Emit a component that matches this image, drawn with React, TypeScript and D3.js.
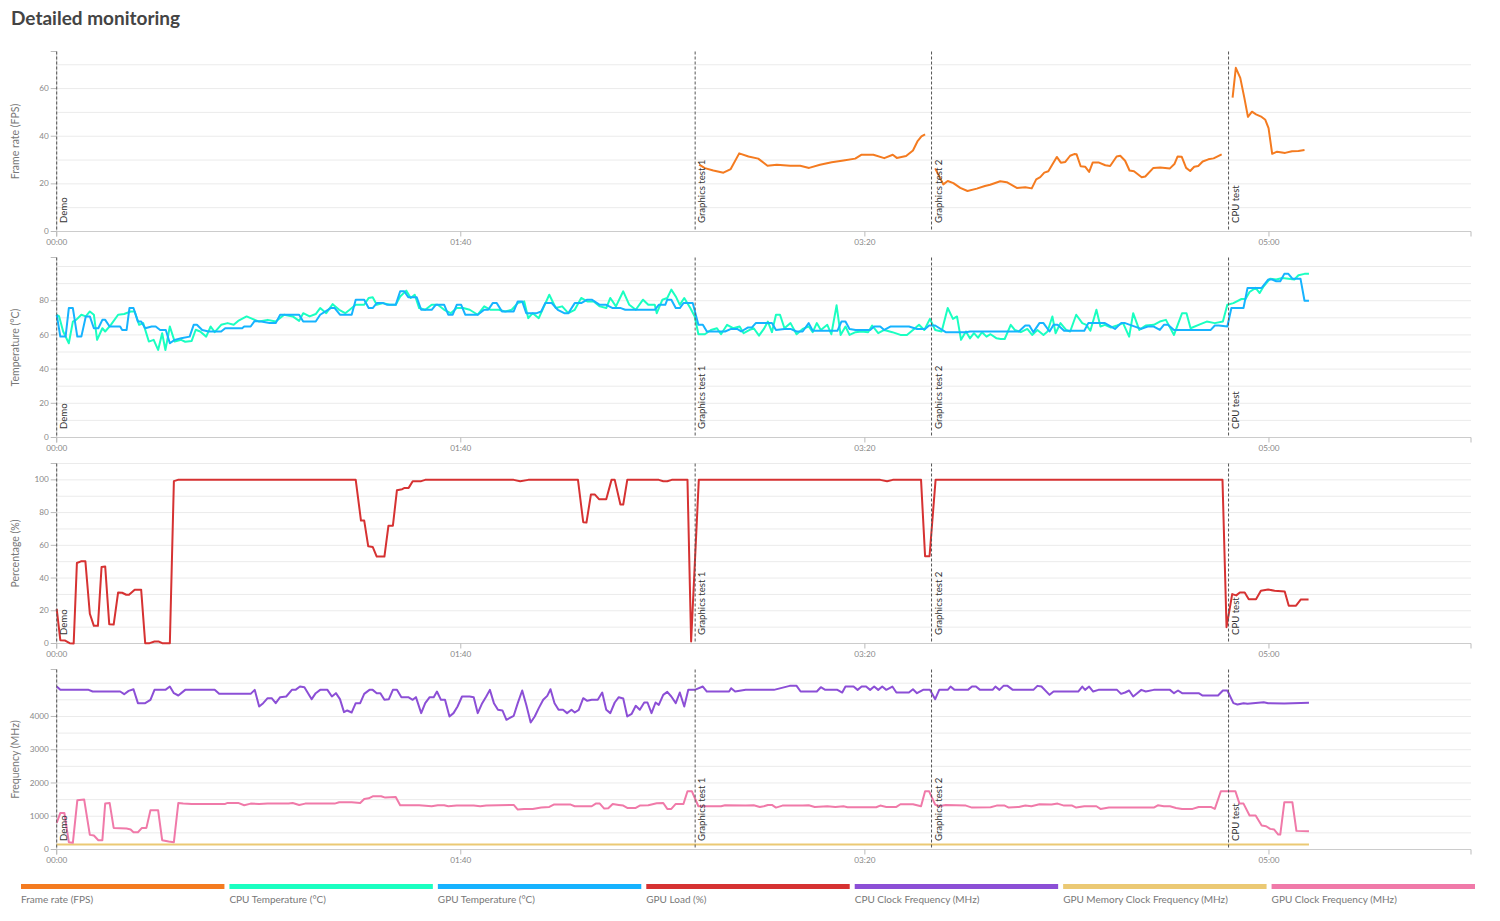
import React from "react";
import * as d3 from "d3";

type Pt = [number, number];

const W = 1500;
const H = 921;
const LEFT = 56.7;
const RIGHT = 1471;
const TOP0 = 51.5;
const STEP = 206;
const PH = 180;
const FONT = "Lato, 'Open Sans', sans-serif";

const xDomain = [0, 350];
const xTickValues = [0, 100, 200, 300];

const markerNames = ["Demo", "Graphics test 1", "Graphics test 2", "CPU test"];
const markerTimes = [0, 158.0, 216.5, 290.0];

const seriesNames = [
  "Frame rate (FPS)",
  "CPU Temperature (°C)",
  "GPU Temperature (°C)",
  "GPU Load (%)",
  "CPU Clock Frequency (MHz)",
  "GPU Memory Clock Frequency (MHz)",
  "GPU Clock Frequency (MHz)",
];
const seriesColors = ["#f47b20", "#1affc1", "#16b3ff", "#d63232", "#8c4fd6", "#ebc974", "#f07aa9"];

const fpsLabelTicks = [0, 20, 40, 60];
const tempLabelTicks = [0, 20, 40, 60, 80];
const loadLabelTicks = [0, 20, 40, 60, 80, 100];
const freqLabelTicks = [0, 1000, 2000, 3000, 4000];

const fpsGraphics1: Pt[] = [
  [159.0, 28.1], [160.4, 26.6], [162.5, 25.6], [165.0, 24.7], [166.8, 26.2], [168.9, 32.8], [171.2, 31.5],
  [173.6, 30.6], [175.9, 27.6], [178.2, 28.0], [181.5, 27.6], [184.0, 27.6], [186.2, 26.7], [188.9, 28.0],
  [191.8, 29.1], [194.7, 29.8], [197.6, 30.6], [199.1, 32.2], [202.1, 32.2], [204.8, 30.8], [206.9, 32.2],
  [207.9, 30.9], [210.2, 31.7], [211.9, 34.0], [213.0, 37.8], [214.0, 39.9], [214.9, 40.8],
];
const fpsGraphics2: Pt[] = [
  [217.4, 26.5], [219.4, 19.8], [220.5, 21.2], [221.9, 20.3], [223.6, 18.3], [225.4, 17.0], [227.7, 18.0],
  [229.7, 19.1], [231.0, 19.6], [233.5, 21.1], [235.1, 20.7], [237.6, 18.3], [239.7, 18.6], [241.3, 18.1],
  [242.4, 21.9], [243.4, 22.8], [244.4, 24.7], [245.4, 25.3], [247.5, 31.3], [248.5, 28.9], [249.6, 29.2],
  [250.8, 31.8], [251.8, 32.5], [252.4, 32.4], [253.4, 27.4], [254.5, 27.2], [255.5, 25.0], [256.4, 29.0],
  [257.8, 29.0], [259.5, 27.8], [260.7, 27.5], [262.3, 31.5], [263.2, 31.8], [264.4, 29.7], [265.5, 25.6],
  [266.6, 25.3], [268.5, 22.8], [269.4, 23.1], [271.4, 26.7], [273.1, 26.9], [275.5, 26.5], [276.6, 28.3],
  [277.4, 31.5], [278.4, 31.4], [279.5, 26.7], [280.5, 25.4], [281.5, 27.2], [282.5, 27.5], [283.6, 29.4],
  [285.0, 30.3], [286.3, 30.7], [288.3, 32.4],
];
const fpsCpu: Pt[] = [
  [291.0, 56.2], [291.8, 68.7], [292.9, 64.5], [293.9, 56.2], [294.8, 48.1], [295.8, 50.3], [296.8, 49.2],
  [298.2, 48.1], [299.1, 46.9], [299.9, 43.4], [300.8, 32.6], [302.0, 33.5], [304.0, 33.0], [305.7, 33.7],
  [307.3, 33.8], [308.8, 34.2],
];

const cpuTemp: Pt[] = [
  [0, 71.8], [0.6, 70.8], [1.6, 62], [3.0, 55.1], [4.0, 67.8], [4.8, 68.8], [6.1, 71.8], [7.2, 70.8],
  [8.2, 73.7], [9.2, 71.8], [10.0, 57.1], [11.3, 63.9], [12.0, 62], [13.4, 65.9], [15.2, 71.8], [16.7, 72.2],
  [18.3, 73.7], [19.3, 73.7], [20.4, 65.9], [21.4, 66.9], [22.8, 56.1], [24.0, 57.1], [25.1, 51.2], [26.1, 61],
  [26.9, 51.2], [28.0, 64.9], [29.2, 56.1], [30.8, 57.1], [31.8, 56], [33.4, 56.5], [34.4, 63], [35.5, 62],
  [37.0, 59], [38.1, 64.9], [39.1, 61.6], [40.7, 65.9], [42.3, 66.9], [43.8, 65.9], [44.9, 68.2], [47.0, 70.8],
  [48.0, 69.8], [50.1, 67.8], [52.2, 68.8], [54.2, 67.8], [56.3, 71.8], [58.4, 70.8], [60.0, 68.2], [61.0, 72.7],
  [62.6, 70.8], [64.1, 72.2], [65.2, 75.7], [66.7, 72.7], [68.3, 78], [69.9, 74.7], [71.4, 72.7], [72.5, 74.7],
  [74.0, 77.6], [76.1, 77.6], [77.2, 81.6], [78.2, 82], [79.2, 77.6], [80.8, 78.6], [82.4, 77.6], [83.9, 77.6],
  [85.0, 82.5], [86.5, 85.9], [87.6, 81.6], [88.6, 83.5], [89.7, 75.7], [91.2, 74.7], [92.8, 77.6], [94.3, 77.6],
  [95.9, 74.7], [97.5, 72.7], [99.0, 75.7], [100.6, 75.7], [102.2, 74.7], [104.2, 71.8], [105.8, 76.7],
  [107.4, 74.7], [109.4, 74.7], [111.0, 73.7], [112.6, 74.7], [114.1, 78.6], [115.7, 79.6], [116.7, 69.8],
  [117.8, 72.7], [119.3, 69.8], [120.4, 75.7], [121.9, 83.5], [123.5, 75.7], [125.1, 76.7], [126.6, 72.7],
  [128.2, 74.7], [129.8, 81.6], [131.3, 79.6], [132.9, 79.6], [134.4, 76.7], [136.0, 75.7], [137.0, 81.6],
  [138.4, 76.7], [140.2, 85.5], [141.7, 77.6], [143.3, 74.7], [145.1, 80.6], [146.4, 77.6], [148.0, 77.6],
  [148.5, 72.7], [149.9, 80.6], [151.1, 81.6], [152.1, 86.5], [153.2, 82.5], [154.2, 77.6], [155.3, 81.6],
  [156.8, 75.7], [157.9, 70.8], [158.8, 60.4], [160.4, 60.4], [161.9, 62.9], [163.4, 63.9], [164.4, 60.4],
  [165.9, 65.9], [167.4, 63.9], [169.0, 64.9], [170.0, 61], [171.5, 62.9], [172.5, 63.9], [173.8, 59.6],
  [175.0, 63.5], [176.0, 67.8], [177.0, 61.6], [178.0, 71.8], [179.0, 71.8], [180.1, 63.9], [181.6, 66.9],
  [183.1, 60.4], [184.6, 63.5], [186.1, 64.9], [187.1, 61.6], [188.1, 66.9], [189.1, 62.9], [190.7, 65.9],
  [191.7, 60.4], [193.0, 77.3], [194.0, 60], [195.2, 64.9], [196.2, 60], [197.7, 61.6], [199.2, 62],
  [200.8, 61.6], [201.8, 65.5], [203.3, 61], [204.8, 62.9], [206.8, 61.6], [208.8, 60], [210.4, 60],
  [211.9, 62.9], [213.4, 65.9], [214.7, 62.9], [216.1, 69.4], [217.4, 62.9], [219.0, 62], [220.5, 75.7],
  [221.8, 69.4], [222.8, 70.8], [223.8, 57.1], [225.0, 62], [226.0, 58], [227.0, 61], [228.0, 58.4],
  [229.0, 61.6], [230.1, 59], [231.1, 60.4], [232.6, 58], [233.6, 57.6], [234.6, 57.6], [236.1, 65.9],
  [237.1, 62.9], [238.6, 61.6], [240.2, 63.5], [241.4, 60], [242.7, 62.9], [244.2, 60], [245.2, 62],
  [246.4, 70.8], [247.2, 61], [248.4, 66.9], [249.8, 62.9], [250.8, 62], [252.3, 71.8], [253.8, 66.9],
  [254.8, 65.9], [255.8, 62.4], [257.3, 74.7], [258.3, 64.9], [259.4, 65.9], [260.9, 64.3], [262.4, 65.5],
  [263.9, 66.9], [265.4, 59], [266.4, 72.7], [267.9, 62.9], [269.5, 65.5], [271.5, 65.9], [273.0, 67.8],
  [274.5, 68.8], [276.5, 60], [278.5, 72.7], [279.6, 72.7], [280.6, 63.9], [282.6, 65.9], [284.6, 67.8],
  [286.6, 66.9], [288.6, 67.8], [289.7, 77.6], [291.2, 78.6], [293.2, 81], [294.2, 81], [295.2, 85.1],
  [296.7, 87.5], [297.7, 84.5], [298.7, 88.4], [300.3, 92.9], [301.8, 92.4], [303.3, 93.3], [304.8, 92.9],
  [306.3, 92.4], [307.3, 94.9], [308.8, 95.7], [309.9, 95.7],
];

const gpuTemp: Pt[] = [
  [0, 71.8], [0.9, 59], [2.2, 59], [3.0, 75.7], [4.0, 75.7], [5.1, 59], [6.1, 59], [7.2, 70.8], [8.2, 70.8],
  [9.2, 63.9], [10.3, 63.9], [11.3, 68.8], [12.0, 68.8], [13.1, 64.9], [15.7, 64.9], [16.2, 62.9], [17.3, 62.9],
  [18.0, 75.7], [19.0, 75.7], [20.1, 67.8], [20.9, 67.8], [21.9, 63.9], [23.5, 64.9], [24.5, 64.9], [25.6, 62.9],
  [27.0, 62.9], [28.0, 55.1], [29.2, 57.1], [30.8, 58], [32.9, 59], [33.9, 65.9], [34.7, 65.9], [36.0, 62.9],
  [37.6, 62], [40.7, 62], [41.7, 63.9], [45.9, 63.9], [46.4, 64.9], [48.0, 64.9], [49.0, 68.2], [50.6, 67.8],
  [52.7, 66.9], [54.2, 66.9], [55.3, 71.8], [60.0, 71.8], [61.0, 67.8], [64.1, 67.8], [65.2, 71.8], [67.8, 75.7],
  [68.8, 75.7], [70.1, 71.8], [73.0, 71.8], [74.0, 80.6], [76.1, 80.6], [77.2, 75.7], [78.2, 75.7], [79.2, 78.6],
  [80.8, 78.6], [81.8, 77.6], [83.9, 77.6], [85.0, 85.5], [86.0, 85.5], [87.0, 82], [89.1, 82], [90.2, 74.7],
  [92.8, 74.7], [93.8, 77.6], [95.9, 77.6], [96.9, 71.8], [98.0, 71.8], [99.0, 77.6], [100.1, 77.6],
  [101.1, 71.8], [104.2, 71.8], [105.8, 74.7], [106.8, 74.7], [107.9, 78.6], [108.9, 78.6], [110.2, 73.7],
  [113.1, 73.7], [114.1, 79.6], [115.2, 79.6], [116.2, 72.7], [118.8, 72.7], [119.9, 73.7], [120.9, 78.6],
  [122.5, 78.6], [124.0, 74.7], [125.6, 72.7], [126.6, 72.7], [128.2, 78.6], [129.8, 78.6], [131.3, 80.6],
  [132.4, 80.6], [134.4, 77.6], [136.0, 77.6], [137.6, 75.7], [139.6, 75.7], [140.7, 74.7], [148.0, 74.7],
  [149.0, 77.6], [150.6, 77.6], [151.1, 80.6], [152.1, 80.6], [153.2, 75.7], [154.2, 75.7], [155.1, 78.6],
  [157.4, 78.6], [158.8, 65.9], [159.9, 65.9], [160.9, 62], [165.4, 62], [166.9, 63.5], [168.4, 63.5],
  [169.4, 62], [171.0, 64.3], [172.0, 64.3], [173.0, 66.9], [177.0, 66.9], [178.0, 62.9], [180.1, 63.5],
  [181.6, 63.5], [183.1, 62], [184.6, 62], [186.1, 66.9], [187.1, 62.4], [193.2, 62.4], [194.2, 67.8],
  [195.2, 67.8], [196.2, 63.5], [197.7, 62.9], [201.3, 62.9], [202.3, 64.9], [203.8, 64.9], [204.8, 62.9],
  [206.3, 64.9], [210.9, 64.9], [212.9, 63.5], [214.9, 63.5], [215.9, 65.5], [217.4, 65.5], [220.0, 61.6],
  [225.0, 61.6], [226.0, 62], [238.1, 62], [239.7, 65.5], [240.7, 65.5], [241.7, 61.6], [243.2, 66.9],
  [244.2, 66.9], [245.7, 62], [246.7, 65.9], [247.7, 65.9], [249.3, 62.4], [254.3, 62.4], [255.3, 66.9],
  [259.4, 66.9], [261.9, 63.5], [263.4, 66.9], [264.4, 66.9], [268.4, 63.5], [270.0, 64.9], [271.5, 64.9],
  [273.0, 62.9], [274.0, 65.9], [275.0, 65.9], [276.5, 62.9], [285.6, 62.9], [286.6, 65.5], [287.6, 65.5],
  [289.7, 64.9], [290.7, 75.7], [293.7, 75.7], [294.7, 87.5], [298.2, 87.5], [299.8, 92.4], [300.8, 92.4],
  [301.8, 91.4], [302.8, 91.4], [303.8, 95.7], [304.8, 95.7], [305.8, 92.9], [307.8, 92.9], [308.8, 80],
  [309.9, 80],
];

const gpuLoad: Pt[] = [
  [0, 21.2], [0.9, 2], [2.1, 1.8], [3.2, 0.2], [4.2, 0], [5.0, 49.2], [6.0, 50.2], [7.1, 50.2], [8.2, 18.2],
  [9.2, 10.8], [10.2, 10.8], [11.1, 46.7], [12.0, 47.1], [13.0, 11.8], [14.1, 11.6], [15.2, 31.2], [16.2, 31],
  [17.2, 29.8], [17.9, 29.8], [19.3, 32.9], [20.9, 32.9], [21.9, 0.2], [23.0, 0.2], [24.2, 1.2], [25.3, 1.2],
  [26.1, 0.2], [28.0, 0.2], [29.0, 99.2], [30.0, 100], [74.0, 100], [75.3, 75.1], [76.1, 75.1], [77.1, 59.4],
  [78.2, 59], [79.2, 53.1], [81.1, 53.1], [82.1, 72], [83.2, 72], [84.2, 93.7], [85.5, 94.3], [86.1, 95.1],
  [87.1, 95.1], [88.1, 99.2], [90.2, 99.2], [91.2, 100], [113.1, 100], [114.7, 99.2], [116.7, 100], [129.0, 100],
  [130.3, 74.1], [131.1, 73.9], [132.2, 91], [133.2, 91], [134.2, 88.2], [136.0, 88.2], [137.3, 100],
  [138.1, 100], [139.5, 84.9], [140.2, 84.9], [141.2, 100], [149.0, 100], [150.1, 99.2], [151.1, 99.2],
  [152.2, 100], [156.1, 100], [157.0, 1.2], [158.9, 100], [203.8, 100], [205.5, 99.2], [206.9, 100],
  [213.9, 100], [214.9, 53.3], [216.0, 53.3], [217.5, 100], [288.5, 100], [289.5, 10], [290.9, 30.2],
  [291.9, 29.4], [292.8, 31.2], [294.0, 31.2], [295.0, 27.1], [296.8, 27.1], [298.0, 32.2], [299.8, 33],
  [301.4, 32.2], [303.9, 31.8], [304.9, 23.1], [306.7, 23.1], [307.9, 26.9], [309.8, 26.9],
];

const cpuClock: Pt[] = [
  [0, 4900], [0.9, 4800], [7.9, 4800], [8.9, 4750], [15.7, 4750], [16.7, 4670], [17.8, 4770], [19.0, 4820],
  [20.1, 4400], [21.9, 4400], [23.2, 4500], [24.2, 4800], [26.9, 4800], [28.0, 4900], [29.0, 4700], [30.1, 4630],
  [31.8, 4800], [39.1, 4800], [40.2, 4680], [48.0, 4680], [49.0, 4800], [50.1, 4300], [51.1, 4400], [52.2, 4550],
  [53.2, 4550], [54.2, 4400], [55.3, 4580], [56.8, 4600], [58.2, 4800], [59.1, 4800], [60.2, 4900], [61.3, 4880],
  [63.1, 4520], [64.1, 4700], [65.2, 4800], [67.0, 4800], [68.1, 4600], [69.1, 4700], [70.1, 4520], [71.1, 4130],
  [71.9, 4180], [73.0, 4120], [74.0, 4400], [75.1, 4400], [76.1, 4680], [77.4, 4800], [78.2, 4800], [79.2, 4700],
  [80.1, 4700], [81.1, 4500], [82.2, 4520], [83.2, 4800], [84.2, 4800], [85.3, 4580], [87.0, 4580], [88.1, 4500],
  [88.9, 4580], [90.2, 4100], [91.2, 4400], [92.3, 4580], [93.3, 4580], [94.1, 4750], [95.1, 4500], [96.1, 4500],
  [97.2, 4000], [98.2, 4100], [99.2, 4300], [100.3, 4600], [102.2, 4600], [103.2, 4580], [104.2, 4100],
  [105.3, 4400], [106.3, 4600], [107.2, 4800], [108.2, 4400], [109.2, 4200], [110.3, 4180], [111.3, 3900],
  [113.1, 4020], [114.1, 4400], [115.2, 4780], [116.2, 4350], [117.3, 3820], [118.3, 4000], [119.3, 4250],
  [120.4, 4500], [121.4, 4620], [122.2, 4820], [123.2, 4400], [124.2, 4200], [125.3, 4200], [126.3, 4100],
  [127.4, 4200], [128.2, 4120], [129.2, 4200], [130.3, 4550], [131.3, 4470], [132.4, 4500], [133.9, 4500],
  [135.0, 4720], [136.0, 4200], [137.0, 4100], [138.1, 4420], [139.1, 4580], [140.2, 4540], [141.2, 4000],
  [142.3, 4080], [143.3, 4320], [144.3, 4200], [145.4, 4420], [146.2, 4420], [147.2, 4100], [148.2, 4420],
  [149.0, 4350], [150.1, 4650], [151.1, 4740], [152.1, 4600], [153.2, 4400], [154.2, 4720], [155.3, 4300],
  [156.3, 4800], [157.9, 4800], [159.9, 4900], [160.9, 4750], [166.4, 4750], [166.9, 4850], [167.9, 4750],
  [170.5, 4800], [177.5, 4800], [181.4, 4920], [183.1, 4920], [184.1, 4750], [188.1, 4750], [189.1, 4880],
  [190.2, 4800], [193.2, 4800], [194.4, 4720], [195.2, 4900], [197.2, 4900], [198.2, 4800], [199.2, 4900],
  [200.3, 4900], [201.3, 4800], [202.3, 4900], [203.3, 4800], [204.3, 4900], [205.3, 4800], [206.8, 4900],
  [207.8, 4720], [210.9, 4720], [211.9, 4820], [212.9, 4700], [214.4, 4800], [216.1, 4800], [217.4, 4520],
  [218.4, 4800], [220.5, 4800], [221.2, 4900], [222.2, 4800], [225.5, 4800], [226.5, 4900], [227.5, 4900],
  [228.5, 4800], [231.6, 4800], [232.3, 4900], [233.3, 4800], [234.3, 4920], [235.3, 4920], [236.6, 4800],
  [241.7, 4800], [242.7, 4920], [243.7, 4900], [245.7, 4650], [246.7, 4750], [252.8, 4750], [253.8, 4900],
  [254.5, 4800], [255.5, 4900], [256.5, 4750], [257.8, 4800], [262.4, 4800], [263.4, 4680], [264.4, 4720],
  [265.4, 4780], [266.4, 4600], [267.4, 4700], [268.4, 4800], [269.5, 4750], [271.5, 4800], [275.5, 4800],
  [276.5, 4700], [277.5, 4780], [278.5, 4700], [282.6, 4700], [283.6, 4630], [287.4, 4630], [288.6, 4780],
  [289.7, 4780], [291.2, 4400], [292.2, 4360], [293.7, 4400], [294.7, 4380], [298.7, 4430], [299.8, 4400],
  [303.8, 4390], [309.9, 4410],
];

const gpuMemClock: Pt[] = [[0, 150], [309.9, 150]];

const gpuClock: Pt[] = [
  [0, 800], [0.9, 1100], [1.9, 1100], [3.0, 220], [4.0, 200], [5.1, 1480], [6.8, 1500], [8.2, 440], [9.2, 420],
  [10.3, 280], [11.3, 280], [12.0, 1380], [13.1, 1400], [14.1, 650], [17.3, 630], [18.3, 600], [19.0, 520],
  [20.1, 520], [21.1, 650], [22.2, 650], [23.2, 1180], [25.1, 1180], [26.1, 280], [27.7, 240], [29.0, 220],
  [30.1, 1400], [31.3, 1380], [33.4, 1370], [41.7, 1370], [42.3, 1400], [44.9, 1400], [46.4, 1330], [48.0, 1380],
  [50.1, 1370], [52.2, 1380], [57.4, 1380], [58.4, 1400], [60.0, 1340], [61.5, 1380], [68.8, 1380], [69.9, 1420],
  [73.0, 1420], [75.1, 1400], [76.1, 1520], [77.2, 1540], [78.2, 1600], [80.3, 1600], [81.3, 1560], [83.9, 1580],
  [85.0, 1330], [89.7, 1330], [92.8, 1300], [94.3, 1330], [95.9, 1330], [96.9, 1300], [99.0, 1320], [103.2, 1320],
  [104.8, 1300], [106.3, 1320], [113.1, 1340], [114.1, 1200], [115.7, 1220], [117.8, 1220], [119.9, 1260],
  [121.9, 1280], [123.0, 1350], [127.2, 1350], [128.2, 1300], [132.4, 1300], [133.4, 1380], [134.4, 1380],
  [135.5, 1230], [136.5, 1240], [137.6, 1370], [139.1, 1340], [140.2, 1320], [141.2, 1250], [143.3, 1250],
  [144.3, 1320], [146.4, 1330], [148.5, 1390], [150.1, 1400], [151.1, 1220], [152.1, 1220], [153.2, 1370],
  [155.1, 1370], [156.1, 1750], [157.2, 1750], [158.8, 1300], [164.4, 1300], [165.4, 1330], [170.5, 1320],
  [172.5, 1330], [174.0, 1280], [175.0, 1300], [176.0, 1340], [177.0, 1340], [178.0, 1260], [179.6, 1320],
  [184.6, 1320], [186.1, 1330], [187.6, 1280], [190.7, 1300], [192.7, 1280], [194.7, 1300], [195.7, 1270],
  [202.8, 1270], [203.8, 1320], [205.3, 1280], [207.8, 1280], [208.8, 1360], [211.9, 1360], [213.9, 1300],
  [214.9, 1750], [215.9, 1750], [217.4, 1350], [218.4, 1300], [220.0, 1340], [225.0, 1320], [226.5, 1260],
  [231.1, 1270], [232.6, 1320], [234.6, 1320], [235.6, 1260], [238.1, 1280], [239.7, 1320], [241.2, 1300],
  [243.2, 1360], [246.2, 1350], [247.7, 1380], [249.3, 1320], [251.3, 1320], [252.3, 1260], [254.3, 1300],
  [257.3, 1300], [258.3, 1220], [260.4, 1260], [271.5, 1260], [272.5, 1330], [274.0, 1300], [275.5, 1300],
  [277.0, 1250], [278.5, 1220], [281.1, 1220], [282.6, 1280], [285.6, 1280], [286.6, 1220], [288.1, 1750],
  [291.7, 1750], [292.7, 1380], [293.7, 1380], [295.2, 1020], [296.7, 1020], [298.2, 720], [299.3, 700],
  [300.3, 620], [301.3, 600], [302.3, 450], [302.8, 450], [303.8, 1420], [305.8, 1420], [306.8, 560],
  [309.9, 550],
];

type Series = { color: string; segments: Pt[][] };
type Panel = { title: string; labelTicks: number[]; series: Series[] };

const panels: Panel[] = [
  { title: "Frame rate (FPS)", labelTicks: fpsLabelTicks, series: [{ color: seriesColors[0], segments: [fpsGraphics1, fpsGraphics2, fpsCpu] }] },
  {
    title: "Temperature (°C)",
    labelTicks: tempLabelTicks,
    series: [
      { color: seriesColors[1], segments: [cpuTemp] },
      { color: seriesColors[2], segments: [gpuTemp] },
    ],
  },
  { title: "Percentage (%)", labelTicks: loadLabelTicks, series: [{ color: seriesColors[3], segments: [gpuLoad] }] },
  {
    title: "Frequency (MHz)",
    labelTicks: freqLabelTicks,
    series: [
      { color: seriesColors[4], segments: [cpuClock] },
      { color: seriesColors[5], segments: [gpuMemClock] },
      { color: seriesColors[6], segments: [gpuClock] },
    ],
  },
];

const fmtTime = (s: number) => {
  const m = Math.floor(s / 60);
  const sec = Math.round(s % 60);
  return `${String(m).padStart(2, "0")}:${String(sec).padStart(2, "0")}`;
};

function PanelView({ panel, index }: { panel: Panel; index: number }) {
  const top = TOP0 + index * STEP;
  const x = d3.scaleLinear().domain(xDomain).range([LEFT, RIGHT]);
  const maxV = d3.max(panel.series.flatMap((s) => s.segments.flat().map((p) => p[1]))) as number;
  const y = d3.scaleLinear().domain([0, maxV * 1.1]).range([PH, 0]);
  const gridTicks = y.ticks(10);
  const line = d3
    .line<Pt>()
    .x((d) => x(d[0]))
    .y((d) => y(d[1]));
  return (
    <g transform={`translate(0,${top})`}>
      {gridTicks.map((t) => (
        <line key={`g${t}`} x1={LEFT} x2={RIGHT} y1={y(t)} y2={y(t)} stroke="#ebebeb" strokeWidth={1} />
      ))}
      {/* y axis */}
      <line x1={LEFT} x2={LEFT} y1={0} y2={PH} stroke="#cccccc" />
      <line x1={LEFT - 6} x2={LEFT} y1={0} y2={0} stroke="#bbbbbb" />
      {panel.labelTicks.map((t) => (
        <g key={`yl${t}`} transform={`translate(0,${y(t)})`}>
          <line x1={LEFT - 6} x2={LEFT} stroke="#bbbbbb" />
          <text x={LEFT - 8} dy="0.32em" textAnchor="end" fontSize={8.2} fill="#888" fontFamily={FONT}>
            {t}
          </text>
        </g>
      ))}
      <text
        transform={`translate(19,${PH / 2}) rotate(-90)`}
        textAnchor="middle"
        fontSize={10.5}
        fill="#777"
        fontFamily={FONT}
      >
        {panel.title}
      </text>
      {/* x axis */}
      <line x1={LEFT} x2={RIGHT} y1={PH} y2={PH} stroke="#cccccc" />
      <line x1={LEFT} x2={LEFT} y1={PH} y2={PH + 5} stroke="#bbbbbb" />
      <line x1={RIGHT} x2={RIGHT} y1={PH} y2={PH + 5} stroke="#bbbbbb" />
      {xTickValues.map((t) => (
        <g key={`xt${t}`} transform={`translate(${x(t)},${PH})`}>
          <line y1={0} y2={5} stroke="#bbbbbb" />
          <text y={13} textAnchor="middle" fontSize={8.2} fill="#888" fontFamily={FONT}>
            {fmtTime(t)}
          </text>
        </g>
      ))}
      {/* data */}
      {panel.series.map((s, si) =>
        s.segments.map((seg, gi) => (
          <path
            key={`s${si}-${gi}`}
            d={line(seg) || ""}
            fill="none"
            stroke={s.color}
            strokeWidth={2}
            strokeLinejoin="round"
          />
        ))
      )}
      {/* markers */}
      {markerTimes.map((t, i) => (
        <g key={`m${i}`}>
          <line x1={x(t)} x2={x(t)} y1={0} y2={PH} stroke="#555" strokeWidth={1} strokeDasharray="3,2" />
          <text
            transform={`translate(${x(t) + 10},${PH - 8.5}) rotate(-90)`}
            fontSize={9.6}
            fill="#333"
            fontFamily={FONT}
          >
            {markerNames[i]}
          </text>
        </g>
      ))}
    </g>
  );
}

export default function App() {
  const legendLeft = 21;
  const legendRight = 1480;
  const itemW = (legendRight - legendLeft) / seriesNames.length;
  return (
    <div style={{ position: "absolute", left: 0, top: 0, width: W, height: H, background: "#fff" }}>
      <svg width={W} height={H} viewBox={`0 0 ${W} ${H}`} style={{ display: "block" }}>
        <rect width={W} height={H} fill="#fff" />
        <text x={11} y={25} fontSize={19} fontWeight={700} fill="#444" fontFamily={FONT}>
          Detailed monitoring
        </text>
        {panels.map((p, i) => (
          <PanelView key={i} panel={p} index={i} />
        ))}
        <g>
          {seriesNames.map((n, i) => (
            <g key={n} transform={`translate(${legendLeft + i * itemW},0)`}>
              <rect x={0} y={884} width={itemW - 5} height={5} fill={seriesColors[i]} />
              <text x={0} y={903} fontSize={10} fill="#777" fontFamily={FONT}>
                {n}
              </text>
            </g>
          ))}
        </g>
      </svg>
    </div>
  );
}
